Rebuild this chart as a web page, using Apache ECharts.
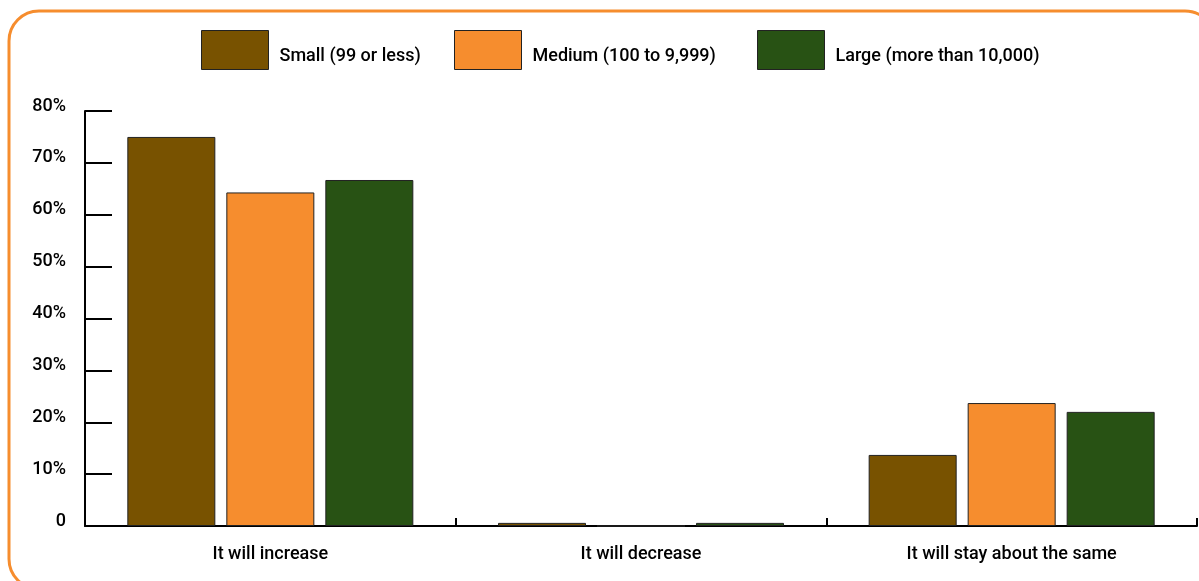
<!DOCTYPE html>
<html>
<head>
<meta charset="utf-8">
<script src="https://cdn.jsdelivr.net/npm/echarts@6/dist/echarts.min.js"></script>
<style>
html,body{margin:0;padding:0;background:#fff;}
#chart{width:1199px;height:581px;}
</style>
</head>
<body>
<div id="chart"></div>
<script>
const categories = ['It will increase', 'It will decrease', 'It will stay about the same'];
const seriesNames = ['Small (99 or less)', 'Medium (100 to 9,999)', 'Large (more than 10,000)'];
const smallValues = [75.0, 0.6, 13.7];
const mediumValues = [64.3, 0, 23.7];
const largeValues = [66.7, 0.6, 22.0];
const colors = ['#785200', '#F68D2E', '#285214'];

const FONT = 'Roboto, "Noto Sans", sans-serif';
const chart = echarts.init(document.getElementById('chart'));

const values = [smallValues, mediumValues, largeValues];
const legendLefts = [196, 449, 752];

const option = {
  animation: false,
  backgroundColor: '#fff',
  textStyle: { fontFamily: FONT },
  graphic: [{
    type: 'rect',
    shape: { x: 9, y: 11, width: 1206, height: 578, r: 30 },
    style: { fill: 'none', stroke: '#F68D2E', lineWidth: 3 },
    silent: true
  }],
  legend: seriesNames.map((n, i) => ({
    data: [n],
    left: legendLefts[i],
    top: 25,
    itemWidth: 67,
    itemHeight: 39,
    itemGap: 0,
    icon: 'rect',
    formatter: '{t|{name}}',
    textStyle: {
      fontFamily: FONT, fontSize: 18, fontWeight: 500, color: '#000',
      rich: { t: { fontFamily: FONT, fontSize: 18, fontWeight: 500, color: '#000', padding: [12, 0, 0, 6] } }
    },
    itemStyle: { borderColor: '#222', borderWidth: 1 }
  })),
  grid: { left: 85, right: 2, top: 111, bottom: 55, containLabel: false },
  xAxis: {
    type: 'category',
    data: categories,
    axisLine: { lineStyle: { color: '#000', width: 2 } },
    axisTick: { show: true, inside: true, length: 8, lineStyle: { color: '#000', width: 2 }, alignWithLabel: false },
    axisLabel: { color: '#000', fontFamily: FONT, fontSize: 18, fontWeight: 500, margin: 19 }
  },
  yAxis: {
    type: 'value',
    min: 0,
    max: 80,
    interval: 10,
    axisLine: { show: true, lineStyle: { color: '#000', width: 2 } },
    axisTick: { show: true, inside: true, length: 27, lineStyle: { color: '#000', width: 2 } },
    splitLine: { show: false },
    axisLabel: {
      color: '#000', fontFamily: FONT, fontSize: 18, fontWeight: 500, margin: 19,
      verticalAlign: 'bottom', lineHeight: 10,
      formatter: v => v === 0 ? '0' : v + '%'
    }
  },
  series: seriesNames.map((n, i) => ({
    name: n,
    type: 'bar',
    data: values[i],
    barWidth: 88,
    barGap: '12.5%',
    itemStyle: { color: colors[i], borderColor: '#222', borderWidth: 1 }
  }))
};
chart.setOption(option);
</script>
</body>
</html>
